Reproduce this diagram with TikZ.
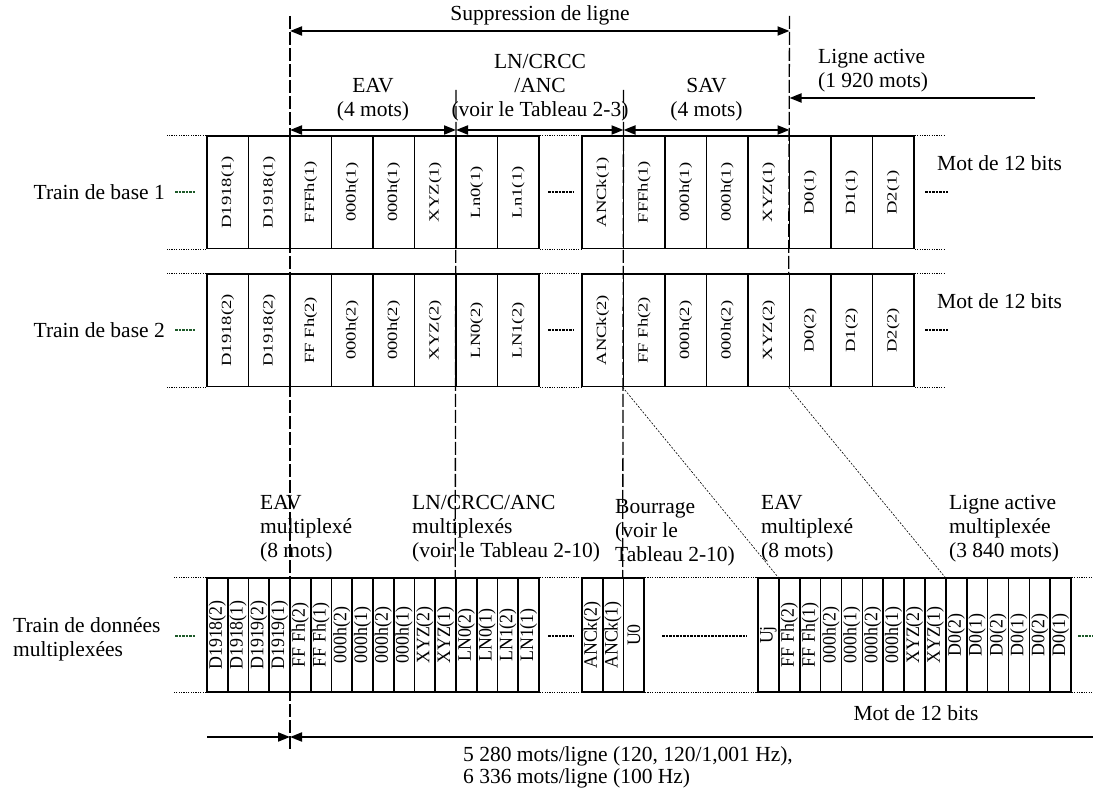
\documentclass[tikz,border=0pt]{standalone}
\usepackage{fontspec}
\setmainfont{Liberation Serif}
\usepackage{graphicx}
\usetikzlibrary{arrows.meta}
\definecolor{dkgreen}{HTML}{1E5A2A}
\newcommand\rtxt[1]{\rotatebox{90}{\scalebox{1.33}[1]{\fontsize{14}{14}\selectfont #1}}}
\newcommand\mtxt[1]{\rotatebox{90}{\scalebox{0.94}[1]{\fontsize{19}{19}\selectfont #1}}}
\begin{document}
\begin{tikzpicture}[x=1pt,y=-1pt,
  every node/.style={inner sep=0pt, font=\fontsize{21.5}{24}\selectfont},
  cellbig/.style={draw=black, line width=1.6pt, minimum width=41.5pt, minimum height=112.5pt},
  cellmux/.style={draw=black, line width=1.6pt, minimum width=20.75pt, minimum height=114pt},
  cellmuxc/.style={draw=black, line width=1.6pt, minimum width=20.87pt, minimum height=114pt},
  dotb/.style={line width=1.2pt, dash pattern=on 1.2pt off 1.2pt},
  vdash/.style={line width=1.3pt, dash pattern=on 13pt off 3pt},
  diag/.style={line width=0.6pt, dash pattern=on 2pt off 1.5pt},
  arr/.style={line width=1.8pt, -{Triangle[length=12pt,width=9pt]}},
  darr/.style={line width=1.8pt, {Triangle[length=12pt,width=9pt]}-{Triangle[length=12pt,width=9pt]}},
  gapmark/.style={line width=1.8pt, dash pattern=on 2.5pt off 1pt},
  lblc/.style={align=center},
  lbll/.style={align=left, anchor=west},
]
\useasboundingbox (0,0) rectangle (1093,791);

% ---------- row 1
\foreach \t [count=\i] in {D1918(1),D1918(1),FFFh(1),000h(1),000h(1),XYZ(1),Ln0(1),Ln1(1)}
  \node[cellbig] (ra\i) at ({207+41.5*(\i-0.5)},192.25) {\rtxt{\t}};
\foreach \t [count=\i] in {ANCk(1),FFFh(1),000h(1),000h(1),XYZ(1),D0(1),D1(1),D2(1)}
  \node[cellbig] (rb\i) at ({582+41.5*(\i-0.5)},192.25) {\rtxt{\t}};
% ---------- row 2
\foreach \t [count=\i] in {D1918(2),D1918(2),FF Fh(2),000h(2),000h(2),XYZ(2),LN0(2),LN1(2)}
  \node[cellbig] (sa\i) at ({207+41.5*(\i-0.5)},330.25) {\rtxt{\t}};
\foreach \t [count=\i] in {ANCk(2),FF Fh(2),000h(2),000h(2),XYZ(2),D0(2),D1(2),D2(2)}
  \node[cellbig] (sb\i) at ({582+41.5*(\i-0.5)},330.25) {\rtxt{\t}};
% ---------- multiplexed row
\foreach \t [count=\i] in {D1918(2),D1918(1),D1919(2),D1919(1),FF Fh(2),FF Fh(1),000h(2),000h(1),000h(2),000h(1),XYZ(2),XYZ(1),LN0(2),LN0(1),LN1(2),LN1(1)}
  \node[cellmux] (mA\i) at ({207+20.75*(\i-0.5)},635) {\mtxt{\t}};
\foreach \t [count=\i] in {ANCk(2),ANCk(1),U0}
  \node[cellmux] (mB\i) at ({582+20.75*(\i-0.5)},635) {\mtxt{\t}};
\foreach \t [count=\i] in {Uj,FF Fh(2),FF Fh(1),000h(2),000h(1),000h(2),000h(1),XYZ(2),XYZ(1),D0(2),D0(1),D0(2),D0(1),D0(2),D0(1)}
  \node[cellmuxc] (mC\i) at ({758+20.87*(\i-0.5)},635) {\mtxt{\t}};

% ---------- dotted edges
\foreach \r/\a/\b in {r/ra/rb, s/sa/sb}{
  \draw[dotb] (\a1.north west) -- ++(-40,0);
  \draw[dotb] (\a1.south west) -- ++(-40,0);
  \draw[dotb] (\a8.north east) -- (\b1.north west);
  \draw[dotb] (\a8.south east) -- (\b1.south west);
  \draw[dotb] (\b8.north east) -- ++(31,0);
  \draw[dotb] (\b8.south east) -- ++(31,0);
}
\draw[dotb] (mA1.north west) -- ++(-32,0);
\draw[dotb] (mA1.south west) -- ++(-32,0);
\draw[dotb] (mA16.north east) -- (mB1.north west);
\draw[dotb] (mA16.south east) -- (mB1.south west);
\draw[dotb] (mB3.north east) -- (mC1.north west);
\draw[dotb] (mB3.south east) -- (mC1.south west);
\draw[dotb] (mC15.north east) -- ++(30,0);
\draw[dotb] (mC15.south east) -- ++(30,0);

% ---------- gap marks
\draw[gapmark, dkgreen] (175,192) -- (195,192);
\draw[gapmark] (548,192) -- (573,192);
\draw[gapmark] (925,192) -- (948,192);
\draw[gapmark, dkgreen] (175,330) -- (195,330);
\draw[gapmark] (548,330) -- (573,330);
\draw[gapmark] (925,330) -- (948,330);
\draw[gapmark, dkgreen] (175,636) -- (195,636);
\draw[gapmark] (548,636) -- (573,636);
\draw[gapmark] (662,636) -- (747,636);
\draw[gapmark, dkgreen] (1078,636) -- (1093,636);

% ---------- row labels
\node[anchor=east] (tb1) at (165,192) {Train de base 1};
\node[anchor=east] (tb2) at (165,330) {Train de base 2};
\node[lbll] (tmx) at (13,639) {Train de données\\multiplexées};
\node[anchor=west] (mw1) at (937,163) {Mot de 12 bits};
\node[anchor=west] (mw2) at (937,301) {Mot de 12 bits};
\node (mw3) at (916,713) {Mot de 12 bits};

% ---------- vertical reference lines
\coordinate (v1t) at (290,16);   \coordinate (v1b) at (290,751);
\coordinate (v2t) at (456,90);   \coordinate (v2b) at (mA13.north west);
\coordinate (v3t) at (623.5,90); \coordinate (v3b) at (mB3.north west);
\coordinate (v4t) at (789.5,16); \coordinate (v4b) at (sb6.north west);
\draw[vdash] (v1t) -- (v1b);
\draw[vdash] (v2t) -- (v2b);
\draw[vdash] (v3t) -- (v3b);
\draw[vdash] (v4t) -- (v4b);

% ---------- diagonal links
\draw[diag] (sb2.south west) -- (mC2.north west);
\draw[diag] (sb6.south west) -- (mC10.north west);

% ---------- top arrows and labels
\coordinate (sA) at (290,31);    \coordinate (sB) at (789.5,31);
\coordinate (e1) at (290,130);   \coordinate (e2) at (456,130);
\coordinate (e3) at (623.5,130); \coordinate (e4) at (789.5,130);
\coordinate (la1) at (1035,98);  \coordinate (la2) at (789.5,98);
\draw[darr] (sA) -- (sB);
\draw[darr] (e1) -- (e2);
\draw[darr] (e2) -- (e3);
\draw[darr] (e3) -- (e4);
\draw[arr] (la1) -- (la2);

\node (sup) at (540,15) {Suppression de ligne};
\node[lblc] (eav) at (373,100) {EAV\\(4 mots)};
\node[lblc] (lnc) at (540,88) {LN/CRCC\\/ANC\\(voir le Tableau 2-3)};
\node[lblc] (sav) at (706.5,100) {SAV\\(4 mots)};
\node[lbll] (lact) at (818,71) {Ligne active\\(1 920 mots)};

% ---------- multiplexed labels
\node[lbll] (meav) at (260,529) {EAV\\multiplexé\\(8 mots)};
\node[lbll] (mln) at (412,529) {LN/CRCC/ANC\\multiplexés\\(voir le Tableau 2-10)};
\node[lbll] (mbr) at (615,533) {Bourrage\\(voir le\\Tableau 2-10)};
\node[lbll] (meav2) at (761,529) {EAV\\multiplexé\\(8 mots)};
\node[lbll] (mact) at (949,529) {Ligne active\\multiplexée\\(3 840 mots)};

% ---------- bottom arrows and label
\coordinate (b0) at (207,737); \coordinate (b1) at (290,737); \coordinate (b2) at (1093,737);
\draw[arr] (b0) -- (b1);
\draw[arr] (b2) -- (b1);
\node[lbll, font=\fontsize{21.5}{22}\selectfont] (bt) at (463,767) {5 280 mots/ligne (120, 120/1,001 Hz),\\6 336 mots/ligne (100 Hz)};
\end{tikzpicture}
\end{document}
